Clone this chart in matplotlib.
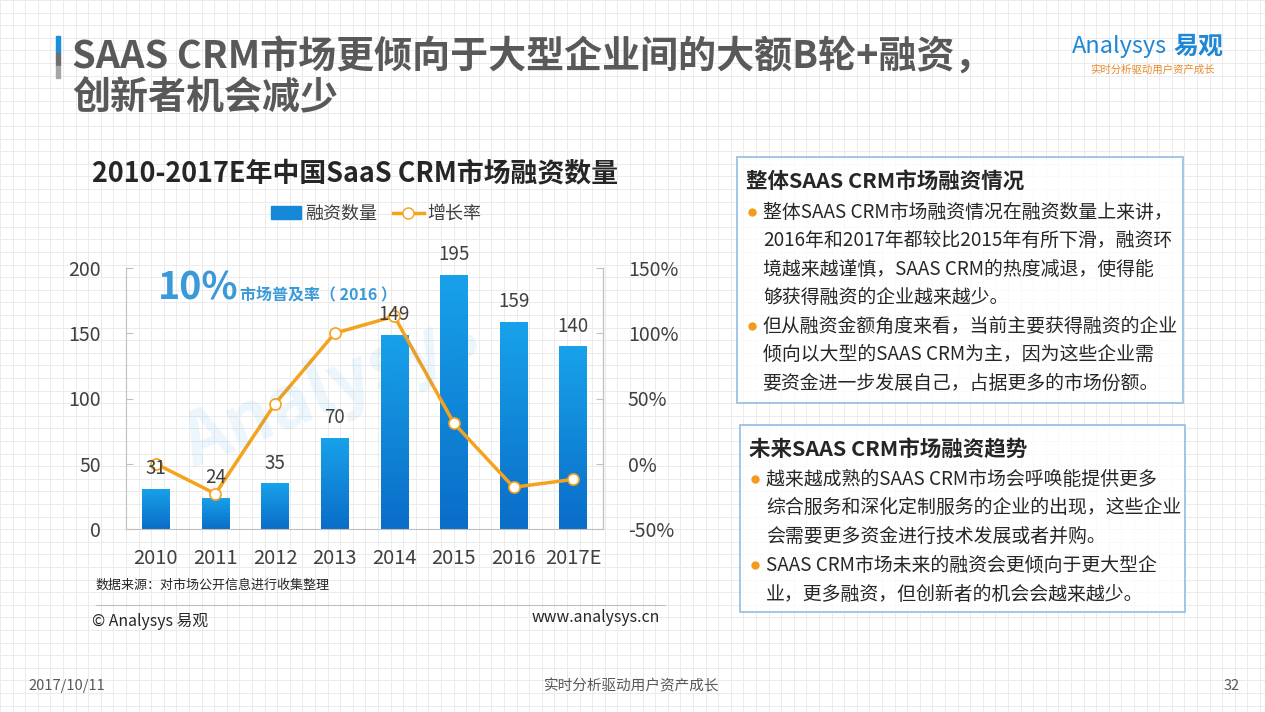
import numpy as np
import matplotlib
matplotlib.use("Agg")
import matplotlib.pyplot as plt
from matplotlib.patches import Rectangle
from matplotlib.lines import Line2D

plt.rcParams['font.family'] = ['Noto Sans CJK SC', 'DejaVu Sans']

# Chart data.
years        = ["2010", "2011", "2012", "2013", "2014", "2015", "2016", "2017E"]
deal_counts  = [31, 24, 35, 70, 149, 195, 159, 140]
growth_rates = [0, -23, 46, 100, 113, 31, -18, -12]
left_ticks   = [0, 50, 100, 150, 200]
right_ticks  = [-50, 0, 50, 100, 150]

# Slide texts.
title_lines = ["SAAS CRM市场更倾向于大型企业间的大额B轮+融资，", "创新者机会减少"]
chart_title = "2010-2017E年中国SaaS CRM市场融资数量"
box1_head   = "整体SAAS CRM市场融资情况"
box1_lines  = [("•", "整体SAAS CRM市场融资情况在融资数量上来讲，"),
               ("",  "2016年和2017年都较比2015年有所下滑，融资环"),
               ("",  "境越来越谨慎，SAAS CRM的热度减退，使得能"),
               ("",  "够获得融资的企业越来越少。"),
               ("•", "但从融资金额角度来看，当前主要获得融资的企业"),
               ("",  "倾向以大型的SAAS CRM为主，因为这些企业需"),
               ("",  "要资金进一步发展自己，占据更多的市场份额。")]
box2_head   = "未来SAAS CRM市场融资趋势"
box2_lines  = [("•", "越来越成熟的SAAS CRM市场会呼唤能提供更多"),
               ("",  "综合服务和深化定制服务的企业的出现，这些企业"),
               ("",  "会需要更多资金进行技术发展或者并购。"),
               ("•", "SAAS CRM市场未来的融资会更倾向于更大型企"),
               ("",  "业，更多融资，但创新者的机会会越来越少。")]

W, H = 1265, 712
fig = plt.figure(figsize=(W/100, H/100), dpi=100)
fig.patch.set_facecolor("white")

def fx(x): return x/W
def fy(y): return 1 - y/H

# Faint paper grid in the background.
bg = fig.add_axes([0, 0, 1, 1], zorder=-10)
bg.set_xlim(0, W); bg.set_ylim(H, 0); bg.axis("off")
for gx in np.arange(0, W, 12.6):
  bg.axvline(gx, color="#ebebeb", lw=0.7, zorder=0)
for gy in np.arange(0, H, 12.6):
  bg.axhline(gy, color="#ebebeb", lw=0.7, zorder=0)

# Slide header.
bg.add_patch(Rectangle((56, 36), 3.5, 17, color="#1b8fdc", zorder=3))
bg.add_patch(Rectangle((56, 53), 3.5, 13, color="#6f6f6f", zorder=3))
bg.add_patch(Rectangle((56, 66), 3.5, 12, color="#a6a6a6", zorder=3))
fig.text(fx(72), fy(57), title_lines[0], fontsize=27.4, fontweight="bold", color="#595959", va="center")
fig.text(fx(72), fy(98), title_lines[1], fontsize=27.4, fontweight="bold", color="#595959", va="center")

# Logo.
fig.text(fx(1072), fy(47), "Analysys", fontsize=17, color="#1e88d6", va="center", style="italic")
fig.text(fx(1173), fy(47), "易观", fontsize=18, fontweight="bold", color="#1e88d6", va="center")
fig.text(fx(1090), fy(70), "实时分析驱动用户资产成长", fontsize=7.5, color="#e8892a", va="center")

# Chart title.
fig.text(fx(92), fy(173), chart_title, fontsize=19.4, fontweight="bold", color="#262626", va="center")

# Main chart.
ax = fig.add_axes([fx(126), fy(529), fx(603)-fx(126), fy(268)-fy(529)])
ax.set_facecolor("none")
x = np.arange(len(years))
bars = ax.bar(x, deal_counts, width=0.46, color="#1688d8", zorder=2)

# Gradient fill on bars.
grad = np.linspace(0, 1, 100).reshape(-1, 1)
cmap = matplotlib.colors.LinearSegmentedColormap.from_list("b", ["#0a6dc8", "#18a2ea"])
for b in bars:
  bx, bw, bh = b.get_x(), b.get_width(), b.get_height()
  im = ax.imshow(grad, extent=[bx, bx+bw, 0, bh], origin="lower", cmap=cmap, aspect="auto", zorder=2)
  im.set_clip_path(b)
ax.set_xlim(-0.5, len(years)-0.5)
ax.set_ylim(0, 200)
ax.set_yticks(left_ticks)
ax.set_xticks(x)
ax.set_xticklabels(years)

for s in ["top"]:
  ax.spines[s].set_visible(False)
for s in ["left", "right", "bottom"]:
  ax.spines[s].set_color("#bfbfbf")
ax.tick_params(axis="y", direction="in", length=5, color="#bfbfbf", labelsize=14, labelcolor="#404040", pad=18)
ax.tick_params(axis="x", length=0, labelsize=14.5, labelcolor="#404040", pad=14)

ax2 = ax.twinx()
ax2.set_ylim(-50, 150)
ax2.set_yticks(right_ticks)
ax2.set_yticklabels([f"{t}%" for t in right_ticks])
ax2.plot(x, growth_rates, color="#f5a21c", lw=2.5, marker="o", markersize=8,
         markerfacecolor="white", markeredgecolor="#f5a21c", markeredgewidth=1.2, zorder=4)
for s in ["top", "left", "bottom"]:
  ax2.spines[s].set_visible(False)
ax2.spines["right"].set_color("#bfbfbf")
ax2.tick_params(axis="y", direction="in", length=5, color="#bfbfbf", labelsize=14, labelcolor="#404040", pad=18)

# Bar value labels, drawn above the line.
for xi, v in zip(x, deal_counts):
  ax2.annotate(f"{v}", (xi, v), xycoords=ax.transData, xytext=(0, 7), textcoords="offset points",
               ha="center", va="bottom", fontsize=13.5, color="#404040", zorder=6)

# Legend.
handles = [Rectangle((0, 0), 1, 1, color="#1688d8"),
           Line2D([], [], color="#f5a21c", lw=2.5, marker="o", markersize=8,
                  markerfacecolor="white", markeredgecolor="#f5a21c")]
fig.legend(handles, ["融资数量", "增长率"], loc="center", bbox_to_anchor=(fx(376), fy(214)),
           ncol=2, frameon=False, fontsize=13, handlelength=1.7, handletextpad=0.2,
           columnspacing=0.9, labelcolor="#404040")

# Market penetration callout.
fig.text(fx(158), fy(288), "10%", fontsize=27, fontweight="bold", color="#3a9ad9", va="center")
fig.text(fx(240), fy(294), "市场普及率（ 2016 ）", fontsize=11.5, fontweight="bold", color="#3a9ad9", va="center")

# Watermark.
fig.text(fx(330), fy(390), "Analysys", fontsize=52, color="#1a8fdc", alpha=0.08,
         rotation=22, ha="center", va="center", fontweight="bold")

# Chart footer.
fig.text(fx(96), fy(585), "数据来源：对市场公开信息进行收集整理", fontsize=9.4, color="#262626", va="center")
bg.plot([96, 665], [605, 605], color="#bfbfbf", lw=0.8)
fig.text(fx(92), fy(621), "© Analysys 易观", fontsize=11.4, color="#262626", va="center")
fig.text(fx(660), fy(618), "www.analysys.cn", fontsize=11.4, color="#262626", va="center", ha="right")

# Text boxes.
def draw_box(x0, y0, x1, y1, head, lines, head_y, line_y0, step):
  bg.add_patch(Rectangle((x0, y0), x1-x0, y1-y0, facecolor="white", edgecolor="#9dc3e6",
                         lw=1.2, alpha=0.7, zorder=1))
  bg.add_patch(Rectangle((x0, y0), x1-x0, y1-y0, facecolor="none", edgecolor="#9dc3e6",
                         lw=1.2, zorder=3))
  fig.text(fx(x0+9), fy(head_y), head, fontsize=15.5, fontweight="bold", color="#262626", va="center")
  for i, (bullet, line) in enumerate(lines):
    yy = line_y0 + i*step
    if bullet:
      bg.plot(x0+15, yy, "o", color="#f59a1c", markersize=5, zorder=4)
    fig.text(fx(x0+26), fy(yy), line, fontsize=13.6, color="#262626", va="center")

draw_box(737, 157, 1183, 403, box1_head, box1_lines, 181, 212, 28.5)
draw_box(740, 425, 1185, 612, box2_head, box2_lines, 449, 479, 28.8)

# Slide footer.
fig.text(fx(28), fy(686), "2017/10/11", fontsize=10.5, color="#595959", va="center")
fig.text(fx(632), fy(686), "实时分析驱动用户资产成长", fontsize=10.5, color="#595959", va="center", ha="center")
fig.text(fx(1240), fy(686), "32", fontsize=10.5, color="#595959", va="center", ha="right")

fig.savefig("out.png", dpi=100)
